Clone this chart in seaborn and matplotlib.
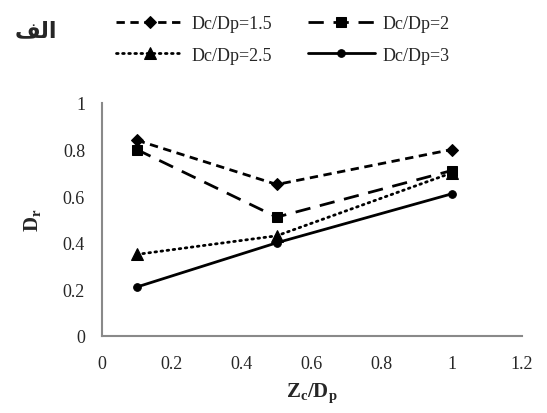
import matplotlib
matplotlib.use("Agg")
import matplotlib.pyplot as plt
import seaborn as sns

# ---------------------------------------------------------------------------
# Data
# ---------------------------------------------------------------------------
zc_dp = [0.1, 0.5, 1.0]
dr_15 = [0.84, 0.65, 0.80]
dr_20 = [0.80, 0.51, 0.71]
dr_25 = [0.35, 0.43, 0.70]
dr_30 = [0.21, 0.40, 0.61]
labels = ["Dc/Dp=1.5", "Dc/Dp=2", "Dc/Dp=2.5", "Dc/Dp=3"]
x_ticks = [0, 0.2, 0.4, 0.6, 0.8, 1, 1.2]
y_ticks = [0, 0.2, 0.4, 0.6, 0.8, 1]
panel_tag = "\uFED2\uFEDF\uFE8D"  # "الف" in shaped visual order

sns.set_theme(style="white")
plt.rcParams.update({
    "font.family": ["Liberation Serif", "DejaVu Sans"],
    "mathtext.fontset": "custom",
    "mathtext.rm": "Liberation Serif",
    "mathtext.bf": "Liberation Serif:bold",
    "mathtext.it": "Liberation Serif:italic",
})

GRAY = "#898989"

fig = plt.figure(figsize=(5.47, 4.14), dpi=100)
ax = fig.add_axes([0.186, 0.186, 0.768, 0.563])

styles = [
    dict(marker="D", markersize=6, dashes=(3, 2)),
    dict(marker="s", markersize=7, dashes=(5.5, 3.5)),
    dict(marker="^", markersize=8, dashes=(0.6, 1.6)),
    dict(marker="o", markersize=5.5, dashes=()),
]

handles = []
for ys, lab, st in zip([dr_15, dr_20, dr_25, dr_30], labels, styles):
    sns.lineplot(x=zc_dp, y=ys, ax=ax, color="black", linewidth=2,
                 marker=st["marker"], markersize=st["markersize"],
                 markeredgecolor="black", markerfacecolor="black",
                 label=lab)
    line = ax.get_lines()[-1]
    if st["dashes"]:
        line.set_dashes(st["dashes"])
        line.set_dash_capstyle("round" if lab.endswith("2.5") else "butt")
    handles.append(line)

ax.set_xlim(0, 1.2)
ax.set_ylim(0, 1)
ax.set_xticks(x_ticks)
ax.set_yticks(y_ticks)
ax.set_xticklabels([f"{t:g}" for t in x_ticks], fontsize=13)
ax.set_yticklabels([f"{t:g}" for t in y_ticks], fontsize=13)
ax.tick_params(axis="x", length=0, pad=14)
ax.tick_params(axis="y", length=0, pad=12)

for side in ["top", "right"]:
    ax.spines[side].set_visible(False)
for side in ["left", "bottom"]:
    ax.spines[side].set_color(GRAY)
    ax.spines[side].set_linewidth(1.5)

ax.set_xlabel(r"$\mathbf{Z_c/D_p}$", fontsize=15, labelpad=6)
ax.set_ylabel(r"$\mathbf{D_r}$", fontsize=15, labelpad=14)

ax.get_legend().remove()
order = [0, 2, 1, 3]
fig.legend([handles[i] for i in order], [labels[i] for i in order],
           ncol=2, frameon=False, fontsize=13, handlelength=3.7,
           columnspacing=2.0, handletextpad=0.45, labelspacing=0.8,
           loc="upper left", bbox_to_anchor=(0.183, 1.0))

fig.text(0.027, 0.925, panel_tag, family="DejaVu Sans", fontweight="bold",
         fontsize=16, ha="left", va="center")

fig.savefig("out.png", dpi=100)
